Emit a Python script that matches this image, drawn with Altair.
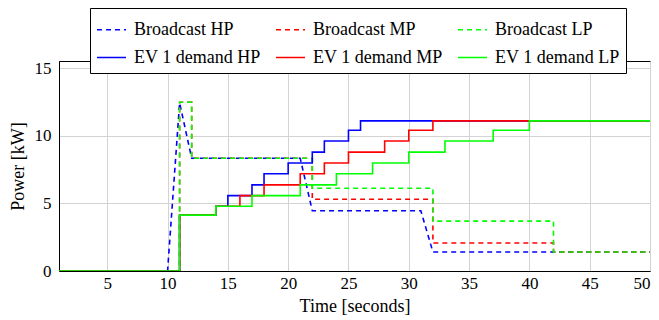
import altair as alt
import pandas as pd

series_names = ["Broadcast HP", "Broadcast MP", "Broadcast LP",
                "EV 1 demand HP", "EV 1 demand MP", "EV 1 demand LP"]
colors = ["#0000ff", "#ff0000", "#00ff00", "#0000ff", "#ff0000", "#00ff00"]
dashes = [[5, 4], [5, 4], [5, 4], [1, 0], [1, 0], [1, 0]]

# Broadcast HP (linear between samples)
bhp_t = [1, 10, 11, 12, 21, 22, 31, 32, 50]
bhp_v = [0, 0, 12.45, 8.35, 8.35, 4.46, 4.46, 1.41, 1.41]
# Broadcast MP / LP (steps, change points)
bmp_t = [1, 11, 12, 22, 32, 42, 50]
bmp_v = [0, 12.5, 8.35, 5.31, 2.07, 1.41, 1.41]
blp_t = [1, 11, 12, 22, 32, 42, 50]
blp_v = [0, 12.5, 8.35, 6.13, 3.69, 1.41, 1.41]
# EV 1 demand (steps, change points)
ehp_t = [1, 11, 14, 15, 17, 18, 20, 22, 23, 25, 26, 50]
ehp_v = [0, 4.14, 4.8, 5.58, 6.38, 7.2, 8.0, 8.8, 9.63, 10.42, 11.12, 11.12]
emp_t = [1, 11, 14, 16, 18, 21, 23, 25, 28, 30, 32, 50]
emp_v = [0, 4.14, 4.8, 5.58, 6.38, 7.2, 8.0, 8.8, 9.63, 10.42, 11.12, 11.12]
elp_t = [1, 11, 14, 17, 21, 24, 27, 30, 33, 37, 40, 50]
elp_v = [0, 4.14, 4.8, 5.58, 6.38, 7.2, 8.0, 8.8, 9.63, 10.42, 11.12, 11.12]

x_ticks = [5, 10, 15, 20, 25, 30, 35, 40, 45, 50]
y_ticks = [0, 5, 10, 15]

data = [(bhp_t, bhp_v, "linear"), (bmp_t, bmp_v, "step-after"), (blp_t, blp_v, "step-after"),
        (ehp_t, ehp_v, "step-after"), (emp_t, emp_v, "step-after"), (elp_t, elp_v, "step-after")]

FONT = "Liberation Serif, Times New Roman, serif"
color_scale = alt.Scale(domain=series_names, range=colors)
dash_scale = alt.Scale(domain=series_names, range=dashes)

legend = alt.Legend(
    title=None, orient="none", legendX=31, legendY=-53, columns=3, direction="horizontal",
    symbolType="stroke", symbolSize=841, symbolStrokeWidth=1.6,
    labelFont=FONT, labelFontSize=18, labelColor="black", labelLimit=300,
    strokeColor="black", padding=6, columnPadding=11, rowPadding=3,
    labelOffset=7, fillColor="white", symbolOpacity=1,
)

layers = []
for name, (t, v, interp) in zip(series_names, data):
    df = pd.DataFrame({"time": t, "power": v, "series": name})
    layers.append(
        alt.Chart(df).mark_line(interpolate=interp, strokeWidth=1.6, clip=True).encode(
            x=alt.X("time:Q", scale=alt.Scale(domain=[1, 50], nice=False),
                    axis=alt.Axis(values=x_ticks, title="Time [seconds]")),
            y=alt.Y("power:Q", scale=alt.Scale(domain=[0, 15.55], nice=False),
                    axis=alt.Axis(values=y_ticks, title="Power [kW]")),
            color=alt.Color("series:N", scale=color_scale, legend=legend),
            strokeDash=alt.StrokeDash("series:N", scale=dash_scale, legend=legend),
        )
    )

chart = alt.layer(*layers).properties(
    width=591, height=210,
    autosize="none",
    padding={"left": 51, "top": 53, "right": 1, "bottom": 48},
).configure_view(stroke="black", strokeWidth=1).configure_axis(
    labelFont=FONT, labelFontSize=17, labelColor="black",
    titleFont=FONT, titleFontSize=18, titleColor="black", titleFontWeight="normal",
    grid=True, gridColor="#d3d3d3", gridWidth=1,
    domainColor="black", ticks=False,
).configure_axisX(labelPadding=4, titlePadding=6).configure_axisY(labelPadding=8, titlePadding=7)

chart.save("out.html", embed_options={"renderer": "svg", "actions": False})
